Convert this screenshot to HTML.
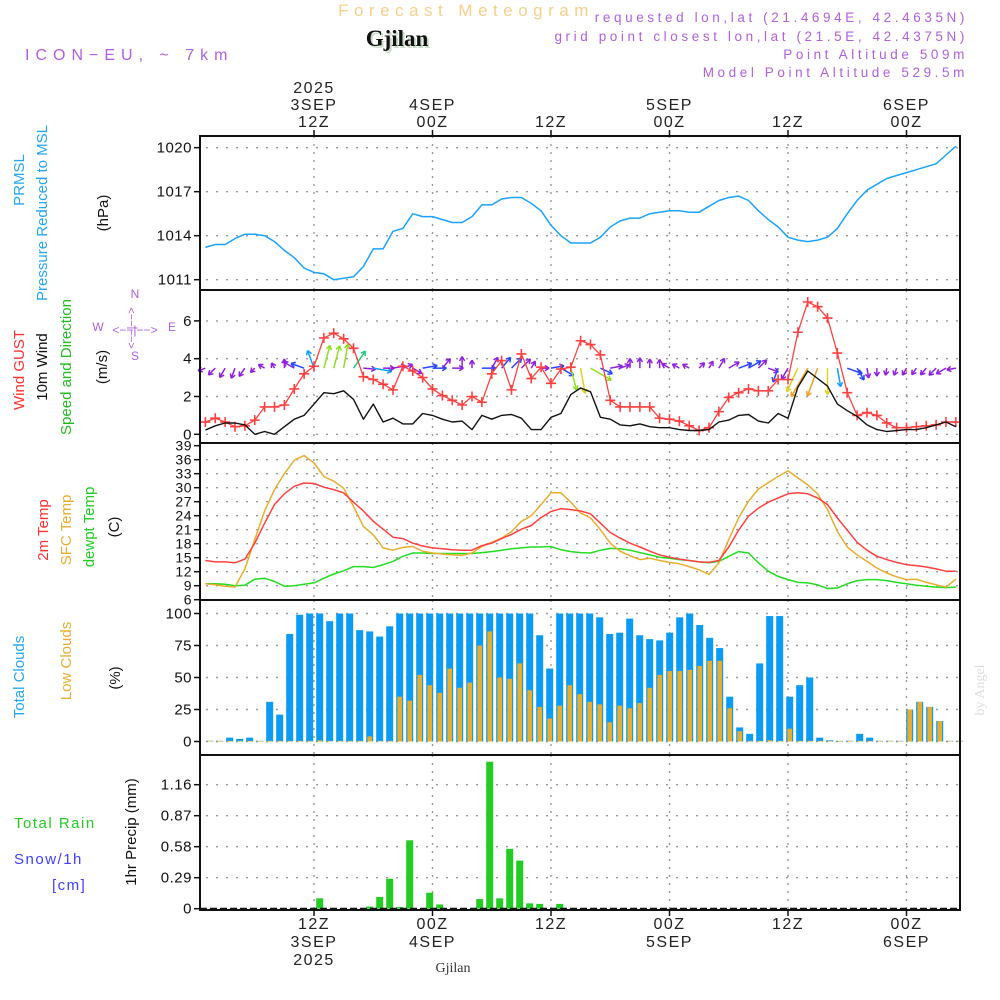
<!DOCTYPE html>
<html><head><meta charset="utf-8"><title>Forecast Meteogram Gjilan</title>
<style>
html,body{margin:0;padding:0;background:#fff;}
svg{display:block;font-family:"Liberation Sans",sans-serif;}
</style></head>
<body>
<svg id="chart" width="1000" height="1000" viewBox="0 0 1000 1000" xmlns="http://www.w3.org/2000/svg">
<rect x="0" y="0" width="1000" height="1000" fill="#fff"/>
<text x="466" y="16" text-anchor="middle" font-size="17" fill="#f5d08a" letter-spacing="5.5">Forecast Meteogram</text>
<text x="399" y="48" text-anchor="middle" font-size="23" font-weight="bold" font-family="Liberation Serif,serif" fill="#c8dcc8">Gjilan</text>
<text x="397" y="46" text-anchor="middle" font-size="23" font-weight="bold" font-family="Liberation Serif,serif" fill="#111">Gjilan</text>
<text x="25" y="60" font-size="16" fill="#b060e0" letter-spacing="6">ICON−EU, ~ 7km</text>
<g font-size="13.5" fill="#b060e0" text-anchor="end" letter-spacing="3.6">
<text x="968" y="22">requested lon,lat (21.4694E, 42.4635N)</text>
<text x="968" y="41">grid point closest lon,lat (21.5E, 42.4375N)</text>
<text x="968" y="59">Point Altitude 509m</text>
<text x="968" y="77">Model Point Altitude 529.5m</text>
</g>
<text transform="translate(984,690) rotate(-90)" text-anchor="middle" font-size="14" fill="#ddd" font-family="Liberation Serif,serif">by Angel</text>
<g id="labels" font-size="15">
<text transform="translate(24,180) rotate(-90)" text-anchor="middle" fill="#22a7f0">PRMSL</text>
<text transform="translate(47,213) rotate(-90)" text-anchor="middle" fill="#22a7f0">Pressure Reduced to MSL</text>
<text transform="translate(108,213) rotate(-90)" text-anchor="middle" fill="#111">(hPa)</text>
<text transform="translate(24,370) rotate(-90)" text-anchor="middle" fill="#ff3030">Wind GUST</text>
<text transform="translate(47,367) rotate(-90)" text-anchor="middle" fill="#111">10m Wind</text>
<text transform="translate(71,367) rotate(-90)" text-anchor="middle" fill="#22bb22">Speed and Direction</text>
<text transform="translate(107,367) rotate(-90)" text-anchor="middle" fill="#111">(m/s)</text>
<text transform="translate(48,530) rotate(-90)" text-anchor="middle" fill="#ff3030">2m Temp</text>
<text transform="translate(71,530) rotate(-90)" text-anchor="middle" fill="#e8ad2c">SFC Temp</text>
<text transform="translate(94,527) rotate(-90)" text-anchor="middle" fill="#22cc22">dewpt Temp</text>
<text transform="translate(119,527) rotate(-90)" text-anchor="middle" fill="#111">(C)</text>
<text transform="translate(24,677) rotate(-90)" text-anchor="middle" fill="#22a7f0">Total Clouds</text>
<text transform="translate(71,661) rotate(-90)" text-anchor="middle" fill="#e8ad2c">Low Clouds</text>
<text transform="translate(120,678) rotate(-90)" text-anchor="middle" fill="#111">(%)</text>
<text transform="translate(136,832) rotate(-90)" text-anchor="middle" fill="#111">1hr Precip (mm)</text>
<text x="14" y="828" fill="#22cc22" letter-spacing="1.5">Total  Rain</text>
<text x="14" y="864" fill="#4040ff" letter-spacing="1.5">Snow/1h</text>
<text x="52" y="890" fill="#4040ff" letter-spacing="1.5">[cm]</text>
</g>
<g font-size="12" fill="#b060e0" text-anchor="middle">
<text x="135" y="298">N</text><text x="135" y="360">S</text><text x="98" y="331">W</text><text x="172" y="331">E</text>
<text x="135" y="334">&lt;−−|−−&gt;</text>
<text transform="translate(135,328) rotate(-90)" font-size="11">&lt;−−|−−&gt;</text>
</g>
<text x="453" y="972" text-anchor="middle" font-size="14" font-family="Liberation Serif,serif" fill="#333">Gjilan</text>
<g id="plot"></g>
</svg>
<script>
// ===== DATA =====
const tickHours = [12, 24, 36, 48, 60, 72];
const topTickLabels = [["2025","3SEP","12Z"],["4SEP","00Z"],["12Z"],["5SEP","00Z"],["12Z"],["6SEP","00Z"]];
const bottomTickLabels = [["12Z","3SEP","2025"],["00Z","4SEP"],["12Z"],["00Z","5SEP"],["12Z"],["00Z","6SEP"]];
const pressureTicks = [1011, 1014, 1017, 1020];
const windTicks = [0, 2, 4, 6];
const tempTicks = [6,9,12,15,18,21,24,27,30,33,36,39];
const cloudTicks = [0, 25, 50, 75, 100];
const precipTicks = [0, 0.29, 0.58, 0.87, 1.16];
const pressure = [1013.2,1013.4,1013.4,1013.8,1014.1,1014.1,1014,1013.6,1013,1012.5,1011.8,1011.5,1011.4,1011,1011.1,1011.2,1011.9,1013.1,1013.1,1014.3,1014.5,1015.5,1015.3,1015.3,1015.1,1014.9,1014.9,1015.3,1016.1,1016.1,1016.5,1016.6,1016.6,1016.2,1015.7,1014.7,1014,1013.5,1013.5,1013.5,1013.9,1014.6,1015,1015.2,1015.2,1015.5,1015.6,1015.7,1015.7,1015.6,1015.6,1016,1016.4,1016.6,1016.7,1016.4,1015.7,1015.1,1014.6,1013.9,1013.7,1013.6,1013.7,1013.9,1014.5,1015.5,1016.4,1017.1,1017.5,1017.9,1018.1,1018.3,1018.5,1018.7,1018.9,1019.5,1020.1];
const gust = [0.65,0.85,0.65,0.4,0.45,0.75,1.45,1.45,1.55,2.4,3.2,3.6,5.1,5.35,5.05,4.55,3.05,2.9,2.65,2.35,3.6,3.35,3.0,2.4,2.05,1.8,1.55,2.0,1.7,3.2,3.9,2.35,4.25,2.95,3.55,2.7,3.45,3.55,4.95,4.75,4.2,1.8,1.45,1.45,1.45,1.45,0.85,0.8,0.7,0.45,0.2,0.35,1.2,1.95,2.2,2.4,2.3,2.3,2.9,2.9,5.4,7.0,6.75,6.15,4.3,2.2,1.0,1.15,1.0,0.6,0.35,0.35,0.4,0.45,0.5,0.65,0.65];
const wind = [0.23,0.45,0.6,0.6,0.5,0,0.15,0,0.4,0.8,1.0,1.6,2.2,2.15,2.3,1.85,0.8,1.6,0.65,0.85,0.55,0.55,1.1,1.0,0.8,0.65,0.7,0.25,1.0,0.8,1.0,1.05,0.85,0.25,0.25,0.9,1.1,2.1,2.45,2.25,0.9,0.8,0.5,0.45,0.55,0.4,0.35,0.35,0.25,0.2,0.2,0.25,0.65,0.75,1.0,1.05,0.7,0.6,1.1,0.85,2.5,3.35,2.95,2.55,1.6,1.25,0.95,0.5,0.25,0.15,0.2,0.25,0.25,0.35,0.5,0.65,0.4];
const windDir = [250,225,210,200,215,225,300,330,0,300,290,340,15,15,10,35,95,100,90,80,70,120,80,90,40,90,0,0,90,30,40,45,45,30,90,80,120,165,170,120,115,80,70,0,0,0,0,300,300,300,45,30,30,60,70,60,45,110,200,210,205,210,200,180,170,110,150,170,180,190,200,210,215,220,225,240,260];
const temp2m = [14.4,14.1,14.1,13.9,14.7,18.1,22.4,26.4,28.7,30.3,31,30.9,30.1,29.6,28.9,26.9,25,22.8,21.1,19.4,19.1,18.1,17.5,17.1,16.9,16.7,16.6,16.6,17.6,18.1,19.1,20,21.1,21.9,23.6,24.9,25.5,25.3,25.0,24.4,22.4,20.4,19.2,18.1,17.3,16.4,15.6,15.1,14.7,14.4,14.1,14,14.4,17.3,20.9,23.9,25.6,26.9,27.8,28.7,28.9,28.7,27.8,26.4,23.5,20.9,18.3,16.6,15.3,14.6,14,13.5,13.3,13,12.6,12.1,12.1];
const tempSfc = [9.4,9.2,8.9,8.7,12.6,18.9,25,29.6,33,35.9,36.9,35.3,32.4,31.4,29.9,26,21.7,19.9,17.1,16.6,17.2,17.4,16.4,16,15.8,15.6,15.5,16,17.4,18.3,19.2,20.6,22.8,24,26.4,28.9,28.9,26.9,24.6,23.5,21,18.1,16.4,15.4,14.6,14.9,14.4,14,13.7,13.1,12.4,11.4,13.9,18.9,23.5,27.1,29.7,31.1,32.4,33.6,32.1,30.6,28.7,25.3,20.6,17.3,15.6,14.2,12.8,11.7,10.9,10.3,10.4,9.7,9.2,8.7,10.4];
const dewpt = [9.4,9.4,9.3,9,9.1,10.4,10.6,9.9,8.9,9,9.3,9.6,10.6,11.5,12.2,13.1,13.1,12.9,13.5,14.2,15.3,16,16,15.9,15.9,15.9,15.9,15.9,16.1,16.3,16.6,16.9,17.1,17.3,17.3,17.4,16.7,16.3,16.1,16,16.6,17,16.9,16.6,16.1,15.6,15.1,14.9,14.6,14.4,14.1,13.9,14.2,15.3,16.3,16,13.9,12.1,11,10.3,9.7,9.6,9.2,8.4,8.5,9.4,10.1,10.3,10.3,10.1,9.7,9.4,9.1,8.9,8.7,8.6,8.7];
const totalClouds = [0.5,0.5,3,2,3,0.5,31,21,84,99,100,100,94,100,100,87,86,82,90,100,100,100,100,100,100,100,100,100,100,100,100,100,100,83,57,100,100,100,100,97,84,85,96,83,80,79,85,97,100,91,81,73,35,11,6,61,98,98,35,44,50,3,1,0.5,0.5,6,3,0.5,0.5,0.5,25,31,27,16,0.5,0.5];
const lowClouds = [0,0,0,0,0,0,0,0,0,0,0,1,0,0,0,0,4,0,0,35,32,52,44,38,57,42,46,75,86,50,49,61,40,27,18,28,44,37,31,29,15,28,26,30,42,52,55,55,56,59,63,63,26,8,0,0,1,0,10,0,0,0,0,0,0,0,0,0,0,0,25,31,27,16,0,0];
const precipIdx = [11,16,17,18,19,20,22,23,27,28,29,30,31,32,33,35];
const precip = [0.097,0.02,0.11,0.28,0.015,0.64,0.15,0.04,0.09,1.375,0.097,0.56,0.45,0.05,0.045,0.045];

// ===== SCALES =====
const X0 = 200, X1 = 960;
const xT = h => 314 + (h - 12) * 9.875;
const xL = k => xT(k + 1);
const xB = k => 209.7 + k * 10;
const yP = p => 279.7 - (p - 1011) * 14.67;
const yW = v => 434.3 - v * 18.9;
const yTe = t => 585.7 - (t - 9) * 4.667;
const yC = c => 741.5 - c * 1.28;
const yR = r => 908.7 - r * 106.9;
const panels = [[136,290],[290,443],[443,600],[600,755],[755,910]];

const NS = "http://www.w3.org/2000/svg";
const plot = document.getElementById('plot');
function el(tag, attrs, parent) {
  const e = document.createElementNS(NS, tag);
  for (const k in attrs) e.setAttribute(k, attrs[k]);
  (parent || plot).appendChild(e);
  return e;
}
function grp(name) {
  const g = el('g', {});
  
  
  return g;
}

const grid = grp('gridlines');
panels.forEach(([a, b]) => {
  tickHours.forEach(h => {
    const l = el('line', {x1: xT(h), x2: xT(h), y1: a, y2: b, stroke: '#999', 'stroke-width': 1.4, 'stroke-dasharray': '2,6'}, grid);
    
    
  });
});
function hgrid(ticks, yf, name) {
  ticks.forEach(t => {
    const l = el('line', {x1: X0 + 6, x2: X1, y1: yf(t), y2: yf(t), stroke: '#999', 'stroke-width': 1.4, 'stroke-dasharray': '2,8'}, grid);
    
    
  });
}
hgrid(pressureTicks, yP, 'pressure-gridline');
hgrid(windTicks, yW, 'wind-gridline');
hgrid(tempTicks.slice(1, -1), yTe, 'temp-gridline');
hgrid(cloudTicks, yC, 'cloud-gridline');
hgrid(precipTicks.slice(1), yR, 'precip-gridline');

function yaxis(ticks, yf, name, fmt, fs) {
  const g = grp(name);
  ticks.forEach(t => {
    el('line', {x1: X0 - 6, x2: X0, y1: yf(t), y2: yf(t), stroke: '#111', 'stroke-width': 1.5}, g);
    const tx = el('text', {x: X0 - 8, y: yf(t) + 5, 'text-anchor': 'end', 'font-size': fs || 15, fill: '#111', 'letter-spacing': 0.5}, g);
    tx.textContent = fmt ? fmt(t) : t;
    
    
  });
}
yaxis(pressureTicks, yP, 'pressure-y-axis');
yaxis(windTicks, yW, 'wind-y-axis');
yaxis(tempTicks, yTe, 'temp-y-axis', null, 14);
yaxis(cloudTicks, yC, 'cloud-y-axis');
yaxis(precipTicks, yR, 'precip-y-axis', t => t === 0 ? '0' : t.toFixed(2));

const topAx = grp('top-time-axis');
tickHours.forEach((h, i) => {
  el('line', {x1: xT(h), x2: xT(h), y1: 130, y2: 136, stroke: '#111', 'stroke-width': 1.5}, topAx);
  const lines = topTickLabels[i];
  lines.forEach((s, j) => {
    const t = el('text', {x: xT(h), y: 127 - (lines.length - 1 - j) * 17, 'text-anchor': 'middle', 'font-size': 16, fill: '#222', 'letter-spacing': 1.5}, topAx);
    t.textContent = s;
    
    
  });
});
const botAx = grp('bottom-time-axis');
tickHours.forEach((h, i) => {
  el('line', {x1: xT(h), x2: xT(h), y1: 910, y2: 916, stroke: '#111', 'stroke-width': 1.5}, botAx);
  bottomTickLabels[i].forEach((s, j) => {
    const t = el('text', {x: xT(h), y: 929 + j * 18, 'text-anchor': 'middle', 'font-size': 16, fill: '#222', 'letter-spacing': 1.5}, botAx);
    t.textContent = s;
    
    
  });
});

function line(vals, yf, color, name, w) {
  const d = vals.map((v, k) => (k ? 'L' : 'M') + xL(k).toFixed(1) + ',' + yf(v).toFixed(1)).join('');
  const p = el('path', {d: d, fill: 'none', stroke: color, 'stroke-width': w || 1.4, 'stroke-linejoin': 'round'});
  
  
  return p;
}

line(pressure, yP, '#1aa3ff', 'pressure-line', 1.5);

const arrows = grp('wind-arrows');
function arrowColor(s) {
  if (s < 0.9) return '#9020e0';
  if (s < 1.3) return '#2848ff';
  if (s < 1.8) return '#10a0ff';
  if (s < 2.1) return '#20d080';
  if (s < 2.4) return '#90e020';
  if (s < 2.8) return '#e0d020';
  return '#f0a020';
}
windDir.forEach((dir, k) => {
  const s = wind[k];
  const len = 6 + s * 8;
  const a = dir * Math.PI / 180;
  const bx = xL(k), by = yW(3.5);
  const ex = bx + Math.sin(a) * len, ey = by - Math.cos(a) * len;
  const c = arrowColor(s);
  const g = el('g', {stroke: c, 'stroke-width': 1.5, fill: 'none'}, arrows);
  
  
  el('line', {x1: bx, y1: by, x2: ex, y2: ey}, g);
  [a + 2.6, a - 2.6].forEach(b => {
    el('line', {x1: ex, y1: ey, x2: ex + Math.sin(b) * 5, y2: ey - Math.cos(b) * 5}, g);
  });
});

line(gust, yW, '#ff4040', 'gust-line', 1.3);
const gm = grp('gust-markers');
gust.forEach((v, k) => {
  const x = xL(k), y = yW(v);
  const p = el('path', {d: `M${x - 5},${y}H${x + 5}M${x},${y - 5}V${y + 5}`, stroke: '#ff4040', 'stroke-width': 1.6}, gm);
  
  
});
line(wind, yW, '#111', 'wind-speed-line', 1.4);

line(dewpt, yTe, '#22dd22', 'dewpoint-line', 1.5);
line(tempSfc, yTe, '#e8ad2c', 'sfc-temp-line', 1.5);
line(temp2m, yTe, '#ff4040', 'temp-2m-line', 1.5);

const cb = grp('cloud-bars');
totalClouds.forEach((v, k) => {
  const r = el('rect', {x: xB(k) - 3.5, y: yC(v), width: 7, height: yC(0) - yC(v), fill: '#0a9cf5'}, cb);
  
  
});
lowClouds.forEach((v, k) => {
  const vv = Math.max(v, 0.5);
  const r = el('rect', {x: xB(k) - 2.3, y: yC(vv), width: 4.6, height: yC(0) - yC(vv), fill: '#e8ad2c'}, cb);
  
  
});

const pb = grp('precip-bars');
precip.forEach((v, i) => {
  const k = precipIdx[i];
  const r = el('rect', {x: xB(k) - 3.5, y: yR(v), width: 7, height: yR(0) - yR(v), fill: '#22cc22'}, pb);
  
  
});
const base = el('line', {x1: X0, x2: X1, y1: yR(0), y2: yR(0), stroke: '#111', 'stroke-width': 2, 'stroke-dasharray': '7,3'});



const fr = grp('panel-frames');
panels.forEach(([a, b]) => {
  const r = el('rect', {x: X0, y: a, width: X1 - X0, height: b - a, fill: 'none', stroke: '#111', 'stroke-width': 2}, fr);
  
  
});
</script>
</body></html>
